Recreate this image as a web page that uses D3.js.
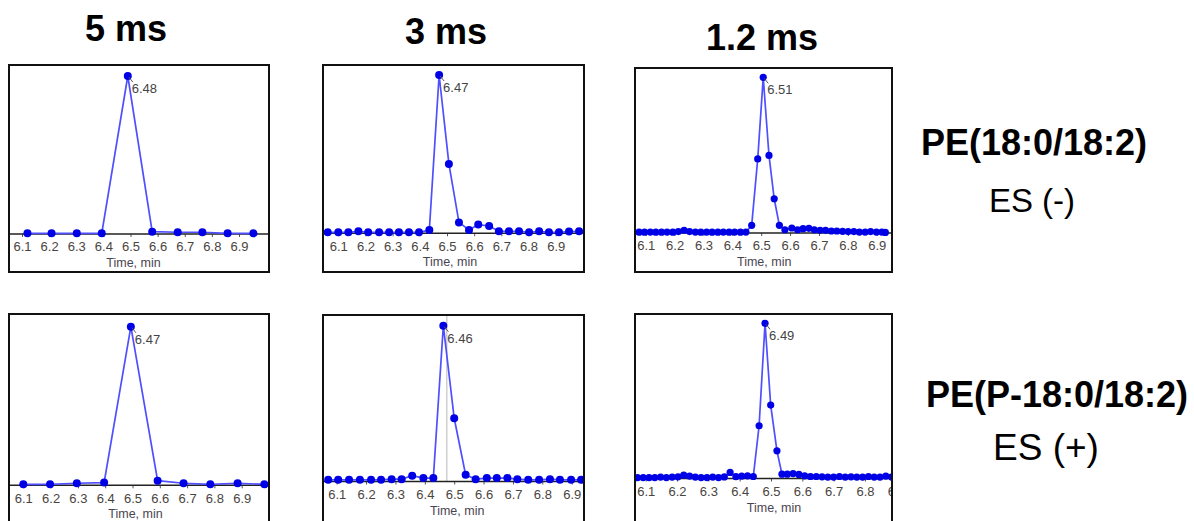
<!DOCTYPE html>
<html><head><meta charset="utf-8">
<script src="https://cdn.jsdelivr.net/npm/d3@7"></script>
<style>
html,body{margin:0;padding:0;background:#fff;}
svg{display:block;font-family:"Liberation Sans",Arial,sans-serif;}
</style></head>
<body>
<svg id="chart" width="1194" height="521"></svg>
<script>
// ---- data ----
const dwellHeaders = ["5 ms", "3 ms", "1.2 ms"];
const compoundNames = ["PE(18:0/18:2)", "PE(P-18:0/18:2)"];
const ionModes = ["ES (-)", "ES (+)"];
const tickValues = [6.1, 6.2, 6.3, 6.4, 6.5, 6.6, 6.7, 6.8, 6.9];
const tickLabels = ["6.1", "6.2", "6.3", "6.4", "6.5", "6.6", "6.7", "6.8", "6.9"];
const axisTitle = "Time, min";
const peakLabels = ["6.48", "6.47", "6.51", "6.47", "6.46", "6.49"];

// top row: PE(18:0/18:2) ES(-)
const p1Times = [6.120, 6.209, 6.302, 6.394, 6.490, 6.580, 6.674, 6.765, 6.858, 6.953];
const p1Values = [0.4, 0.4, 0.4, 0.4, 100, 1.5, 1.1, 1.1, 0.4, 0.4];

const p2Times = [6.061, 6.100, 6.137, 6.174, 6.210, 6.250, 6.287, 6.323, 6.360, 6.397, 6.435, 6.471, 6.507,
  6.544, 6.581, 6.615, 6.655, 6.691, 6.728, 6.765, 6.802, 6.839, 6.875, 6.912, 6.949, 6.986];
const p2Values = [0.6, 0.6, 0.6, 1.3, 0.6, 0.6, 0.6, 0.6, 0.6, 0.6, 2.1, 100, 43.8,
  6.9, 2.1, 5.5, 4.6, 1.3, 1.3, 1.3, 0.6, 1.3, 0.6, 0.6, 1.1, 1.3];

const p3Times = [6.057, 6.077, 6.096, 6.116, 6.135, 6.155, 6.174, 6.194, 6.213, 6.233, 6.252, 6.272, 6.291,
  6.311, 6.330, 6.350, 6.369, 6.389, 6.408, 6.428, 6.447, 6.467, 6.488, 6.507, 6.527, 6.545, 6.563, 6.582,
  6.606, 6.626, 6.645, 6.665, 6.684, 6.704, 6.723, 6.743, 6.762, 6.782, 6.801, 6.821, 6.840, 6.860, 6.879,
  6.899, 6.918, 6.930];
const p3Values = [0.5, 0.5, 0.5, 0.6, 0.5, 0.5, 0.6, 0.5, 0.9, 1.7, 0.9, 0.6, 0.5,
  0.6, 0.5, 0.5, 0.6, 0.5, 0.6, 0.5, 0.6, 4.9, 47.6, 100, 49.8, 22, 4.9, 2.1,
  3.2, 2.1, 2.8, 3.0, 2.1, 1.7, 1.7, 1.3, 1.3, 1.1, 0.9, 0.9, 0.6, 0.6, 0.9,
  0.6, 0.6, 0.4];

// bottom row: PE(P-18:0/18:2) ES(+)
const p4Times = [6.100, 6.198, 6.296, 6.396, 6.494, 6.592, 6.687, 6.785, 6.885, 6.983];
const p4Values = [0.6, 0.6, 1.3, 1.7, 100, 2.9, 1.3, 0.6, 1.3, 0.6];

const p5Times = [6.071, 6.105, 6.142, 6.179, 6.217, 6.251, 6.287, 6.321, 6.357, 6.395, 6.429, 6.463, 6.500,
  6.539, 6.573, 6.611, 6.645, 6.681, 6.715, 6.752, 6.789, 6.826, 6.860, 6.898, 6.932];
const p5Values = [1.1, 1.1, 1.1, 1.1, 1.1, 1.1, 1.5, 1.5, 3.7, 2.2, 2.2, 100, 40.6,
  4.3, 1.5, 2.2, 2.2, 2.2, 1.5, 1.1, 1.1, 1.5, 1.1, 1.1, 1.1];
const p5Cursor = [6.475];

const p6Times = [6.055, 6.0735, 6.092, 6.1105, 6.129, 6.1475, 6.166, 6.1845, 6.203, 6.2215, 6.240, 6.2585,
  6.277, 6.2955, 6.314, 6.3325, 6.351, 6.3695, 6.388, 6.4065, 6.425, 6.4435, 6.462, 6.481, 6.499, 6.519,
  6.535, 6.552, 6.5705, 6.589, 6.6075, 6.626, 6.6445, 6.663, 6.6815, 6.700, 6.7185, 6.737, 6.7555, 6.774,
  6.7925, 6.811, 6.8295, 6.848, 6.8665, 6.885];
const p6Values = [0.6, 0.5, 0.6, 0.5, 0.6, 0.9, 0.6, 0.9, 1.1, 2.2, 1.5, 0.9,
  0.6, 0.6, 0.9, 0.6, 1.0, 3.9, 1.2, 1.5, 1.7, 1.3, 34, 100, 47.3, 17.8,
  2.8, 2.8, 3.2, 2.6, 1.7, 1.3, 1.3, 1.1, 0.9, 0.9, 1.3, 0.9, 1.1, 0.9,
  0.9, 1.3, 0.9, 0.9, 1.5, 0.9];

// ---- layout (positions only) ----
const panels = [
  {times: p1Times, values: p1Values, label: peakLabels[0], frame: [9, 65, 269, 272], x0: 22, x1: 239, y0: 234, y1: 76, r: 4},
  {times: p2Times, values: p2Values, label: peakLabels[1], frame: [323, 65, 584, 272], x0: 338.3, x1: 555.7, y0: 233.3, y1: 75, r: 4},
  {times: p3Times, values: p3Values, label: peakLabels[2], frame: [635, 68, 892, 272], x0: 645.7, x1: 876.7, y0: 233, y1: 77.3, r: 3.6},
  {times: p4Times, values: p4Values, label: peakLabels[3], frame: [9, 314, 269, 540], x0: 23.3, x1: 241.7, y0: 485.3, y1: 326.7, r: 4},
  {times: p5Times, values: p5Values, label: peakLabels[4], frame: [323, 315, 584, 540], x0: 336.7, x1: 571.7, y0: 481.5, y1: 325.7, r: 4, cursor: p5Cursor},
  {times: p6Times, values: p6Values, label: peakLabels[5], frame: [635, 314, 892, 540], x0: 645.7, x1: 896.3, y0: 478.5, y1: 323.3, r: 3.6}
];

const svg = d3.select("#chart");
const defs = svg.append("defs");

panels.forEach((p, i) => {
  const [fx0, fy0, fx1, fy1] = p.frame;
  const x = d3.scaleLinear().domain([6.1, 6.9]).range([p.x0, p.x1]);
  const y = d3.scaleLinear().domain([0, 100]).range([p.y0, p.y1]);
  const clipId = "clip" + i;
  defs.append("clipPath").attr("id", clipId)
    .append("rect").attr("x", fx0 + 1).attr("y", fy0 + 1).attr("width", fx1 - fx0 - 2).attr("height", fy1 - fy0 - 2);
  const g = svg.append("g");
  const inner = g.append("g").attr("clip-path", `url(#${clipId})`);

  if (p.cursor) {
    inner.selectAll("line.cursor").data(p.cursor).join("line").attr("class", "cursor")
      .attr("x1", d => x(d)).attr("x2", d => x(d)).attr("y1", fy0).attr("y2", p.y0)
      .attr("stroke", "#b8b8b8").attr("stroke-width", 1);
  }

  // axis
  const axis = d3.axisBottom(x).tickValues(tickValues).tickFormat((d, k) => tickLabels[k]).tickSize(3).tickPadding(5);
  const ag = inner.append("g").attr("transform", `translate(0,${p.y0})`).call(axis);
  ag.select(".domain").remove();
  ag.selectAll(".tick line").attr("stroke", "#555");
  ag.selectAll(".tick text").attr("font-size", 13).attr("fill", "#4a4440")
    .attr("font-family", "'Liberation Sans', Arial, sans-serif");
  inner.append("line").attr("x1", fx0).attr("x2", fx1).attr("y1", p.y0).attr("y2", p.y0)
    .attr("stroke", "#222").attr("stroke-width", 1.5);

  const line = d3.line().x((d, k) => x(p.times[k])).y(d => y(d));
  inner.append("path").datum(p.values).attr("d", line)
    .attr("fill", "none").attr("stroke", "#4f4fff").attr("stroke-width", 1.7);
  inner.selectAll("circle").data(p.values).join("circle")
    .attr("cx", (d, k) => x(p.times[k])).attr("cy", d => y(d)).attr("r", p.r)
    .attr("fill", "#0000e6");

  // peak label
  const pk = p.values.indexOf(d3.max(p.values));
  const px = x(p.times[pk]), py = y(p.values[pk]);
  g.append("line").attr("x1", px + 1).attr("y1", py + 1).attr("x2", px + 5).attr("y2", py + 6)
    .attr("stroke", "#555").attr("stroke-width", 1);
  g.append("text").attr("x", px + 4).attr("y", py + 17).text(p.label)
    .attr("font-size", 13).attr("fill", "#444");

  // axis title
  g.append("text").attr("x", x(6.5) + 3).attr("y", p.y0 + 33).attr("text-anchor", "middle")
    .attr("font-size", 12.5).attr("fill", "#4a4450").text(axisTitle);

  // frame
  g.append("rect").attr("x", fx0).attr("y", fy0).attr("width", fx1 - fx0).attr("height", fy1 - fy0)
    .attr("fill", "none").attr("stroke", "#111").attr("stroke-width", 2);
});

// headers
const headerPos = [[126, 41], [446, 44], [762, 50]];
svg.selectAll("text.hdr").data(dwellHeaders).join("text").attr("class", "hdr")
  .attr("x", (d, i) => headerPos[i][0]).attr("y", (d, i) => headerPos[i][1])
  .attr("text-anchor", "middle").attr("font-size", 36).attr("font-weight", "bold").attr("fill", "#000")
  .text(d => d);

// compound labels
const compPos = [[1034, 155], [1057, 407]];
svg.selectAll("text.comp").data(compoundNames).join("text").attr("class", "comp")
  .attr("x", (d, i) => compPos[i][0]).attr("y", (d, i) => compPos[i][1])
  .attr("text-anchor", "middle").attr("font-size", 36).attr("font-weight", "bold").attr("fill", "#000")
  .text(d => d);
const modePos = [[1032, 212, 33], [1046, 460, 37]];
svg.selectAll("text.mode").data(ionModes).join("text").attr("class", "mode")
  .attr("x", (d, i) => modePos[i][0]).attr("y", (d, i) => modePos[i][1])
  .attr("text-anchor", "middle").attr("font-size", (d, i) => modePos[i][2]).attr("fill", "#000")
  .text(d => d);
</script>
</body></html>
